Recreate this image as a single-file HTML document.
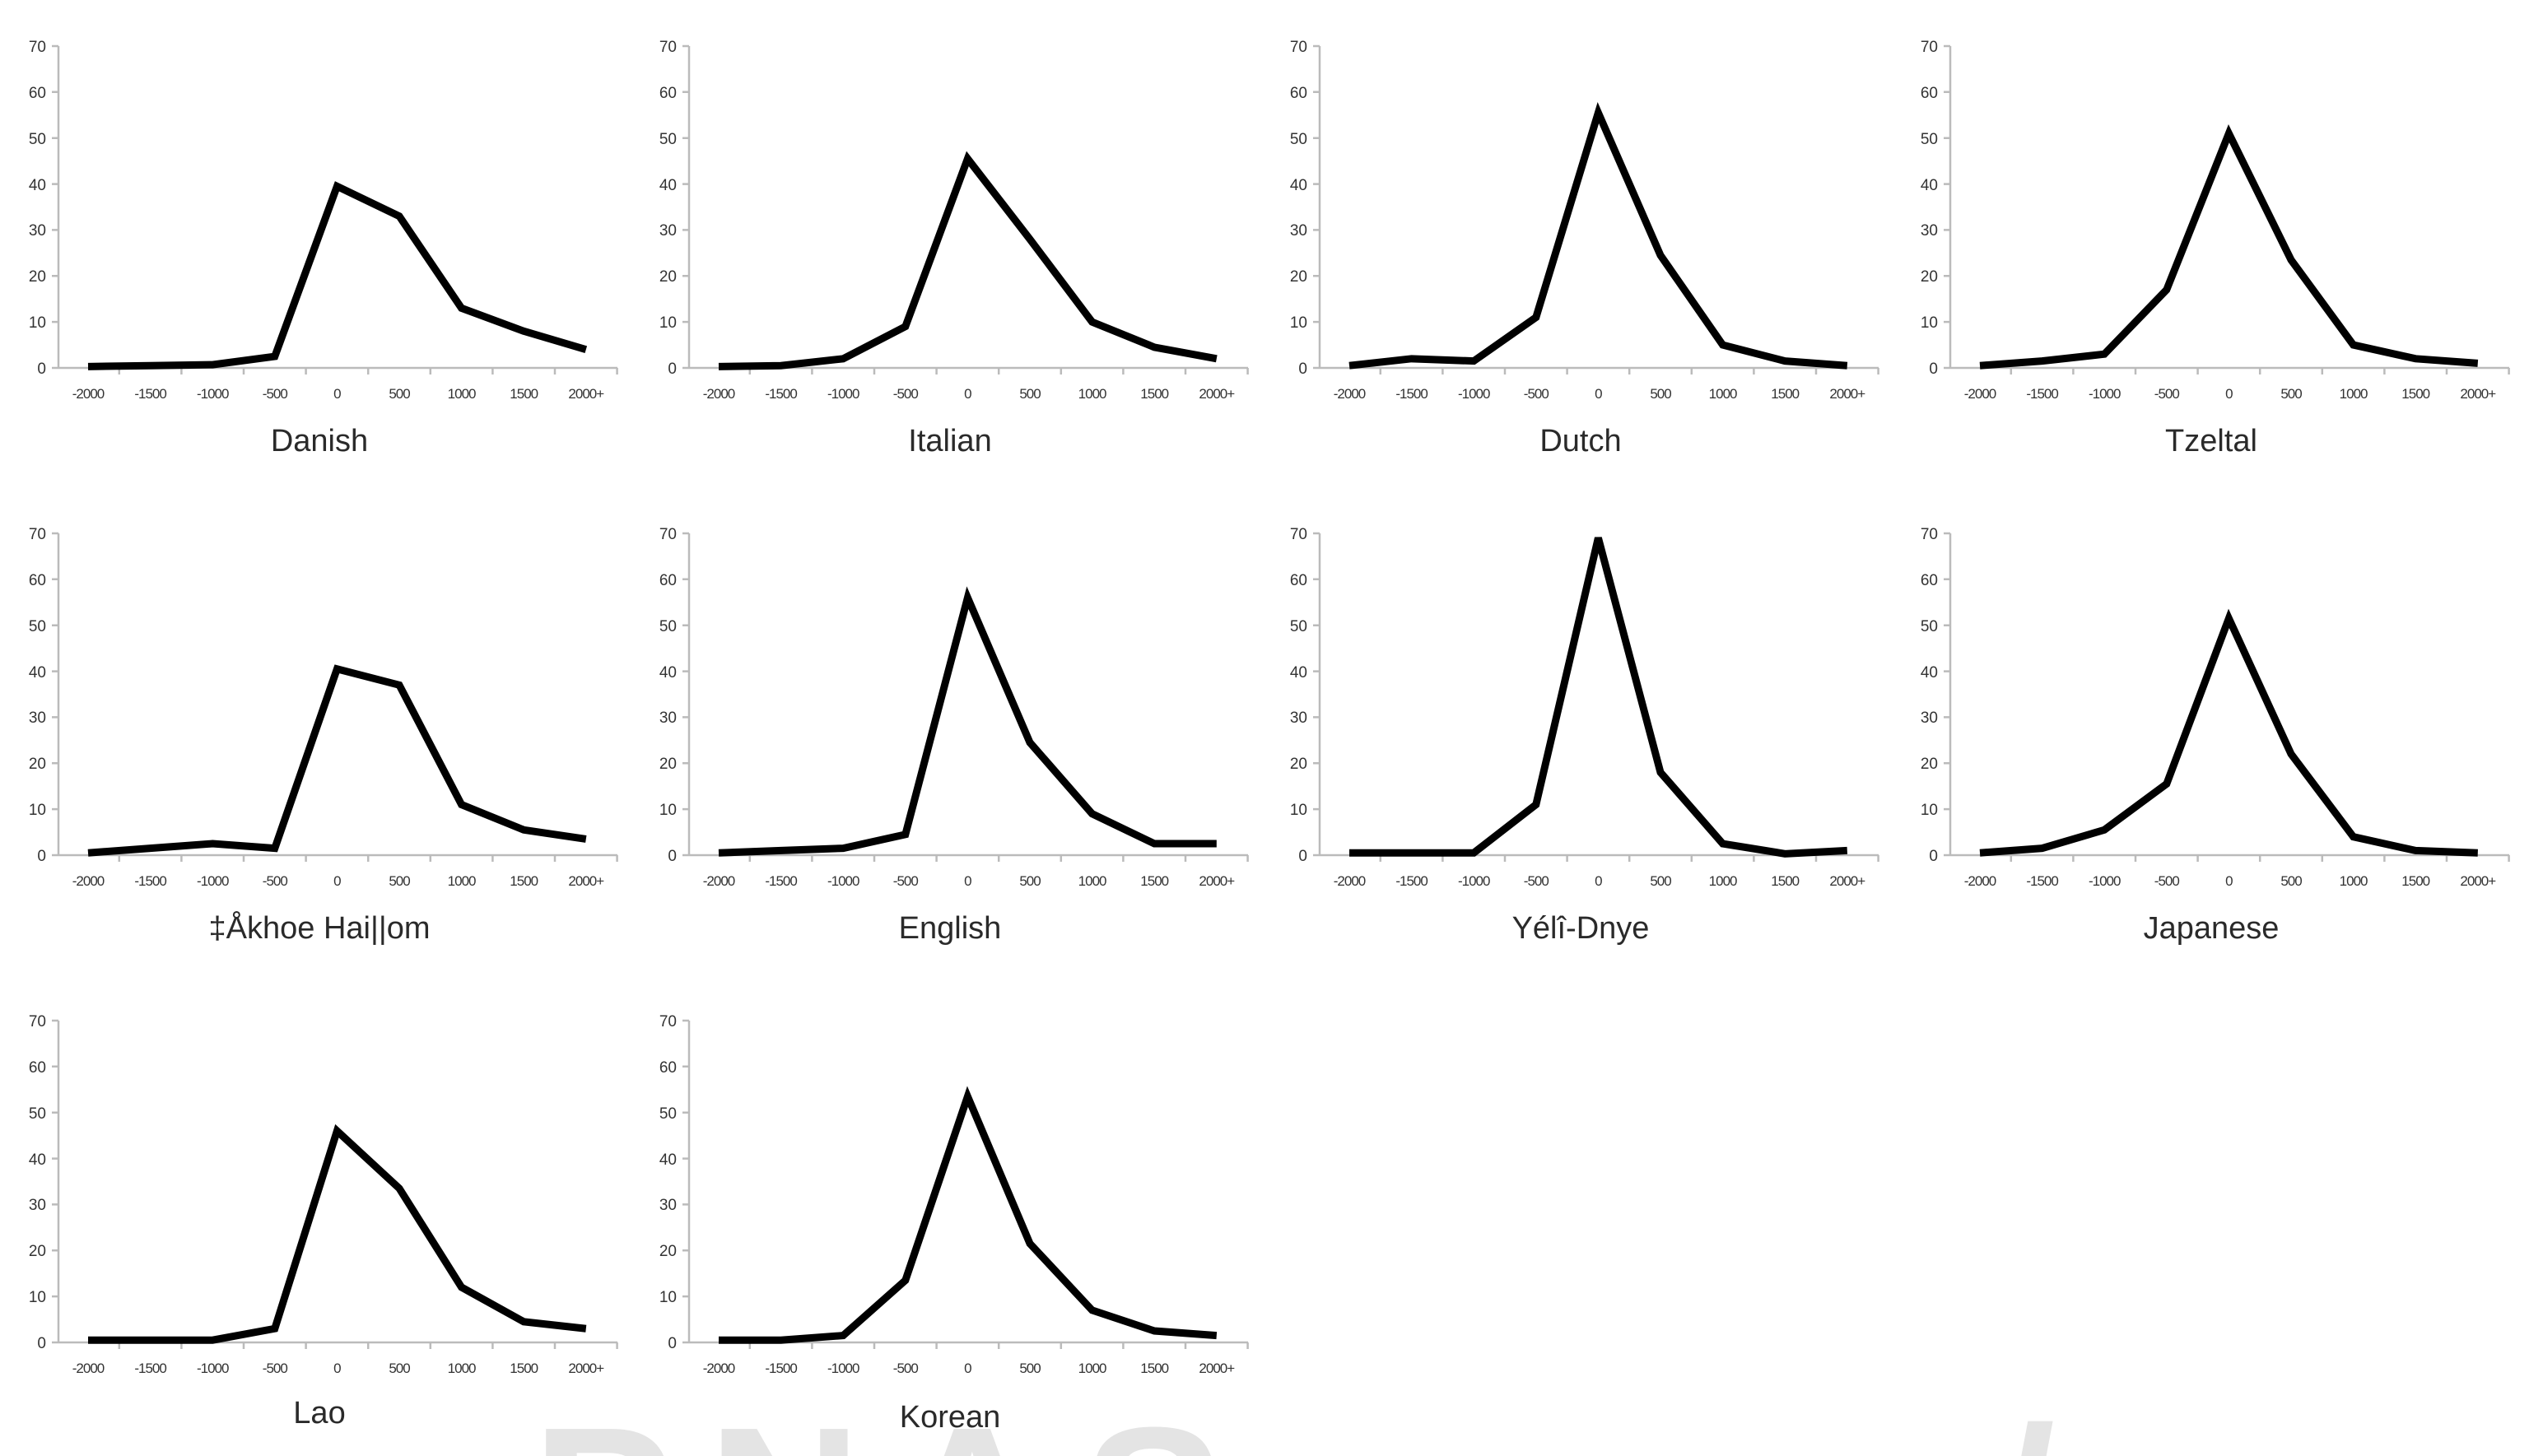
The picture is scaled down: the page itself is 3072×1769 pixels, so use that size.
<!DOCTYPE html>
<html><head><meta charset="utf-8"><style>
html,body{margin:0;padding:0;background:#fff;width:3072px;height:1769px;overflow:hidden;}
svg{display:block;overflow:hidden;}
.yl{font:19px "Liberation Sans",sans-serif;fill:#333;text-anchor:end;}
.xl{font:17px "Liberation Sans",sans-serif;fill:#333;text-anchor:middle;letter-spacing:-1px;}
.tt{font:38px "Liberation Sans","DejaVu Sans",sans-serif;fill:#2a2a2a;text-anchor:middle;}
.ax{stroke:#bbb;stroke-width:2.5;fill:none;}
.ln{stroke:#000;stroke-width:9;fill:none;stroke-linejoin:miter;vector-effect:non-scaling-stroke;}
</style></head><body>
<svg width="3072" height="1769" viewBox="0 0 3072 1769" xmlns="http://www.w3.org/2000/svg">
<rect width="3072" height="1769" fill="#fff"/>
<text x="1087" y="1915" font-family="Liberation Sans" font-weight="bold" font-size="260" fill="#e4e4e4" text-anchor="middle" letter-spacing="40">PNAS</text>
<text x="2460" y="1915" font-family="Liberation Sans" font-weight="bold" font-size="260" fill="#e4e4e4" text-anchor="middle">/</text>

<g transform="translate(0,0)">
<path class="ax" d="M71,56V447H750M63,56H71M63,111.8H71M63,167.7H71M63,223.6H71M63,279.4H71M63,335.3H71M63,391.1H71M63,447H71M144.8,447v8M220.4,447v8M296,447v8M371.6,447v8M447.2,447v8M522.8,447v8M598.4,447v8M674,447v8M749.6,447v8"/>
<text class="yl" x="56" y="63">70</text><text class="yl" x="56" y="119">60</text><text class="yl" x="56" y="175">50</text><text class="yl" x="56" y="231">40</text><text class="yl" x="56" y="286">30</text><text class="yl" x="56" y="342">20</text><text class="yl" x="56" y="398">10</text><text class="yl" x="56" y="454">0</text>
<text class="xl" x="107" y="484">-2000</text><text class="xl" x="182.6" y="484">-1500</text><text class="xl" x="258.2" y="484">-1000</text><text class="xl" x="333.8" y="484">-500</text><text class="xl" x="409.4" y="484">0</text><text class="xl" x="485" y="484">500</text><text class="xl" x="560.6" y="484">1000</text><text class="xl" x="636.2" y="484">1500</text><text class="xl" x="711.8" y="484">2000+</text>
<text class="tt" x="388" y="548">Danish</text>
<polyline class="ln" transform="translate(107,447) scale(75.6,-5.586)" points="0,0.3 1,0.5 2,0.7 3,2.5 4,39.5 5,33 6,13 7,8 8,4"/>
</g>

<g transform="translate(766,0)">
<path class="ax" d="M71,56V447H750M63,56H71M63,111.8H71M63,167.7H71M63,223.6H71M63,279.4H71M63,335.3H71M63,391.1H71M63,447H71M144.8,447v8M220.4,447v8M296,447v8M371.6,447v8M447.2,447v8M522.8,447v8M598.4,447v8M674,447v8M749.6,447v8"/>
<text class="yl" x="56" y="63">70</text><text class="yl" x="56" y="119">60</text><text class="yl" x="56" y="175">50</text><text class="yl" x="56" y="231">40</text><text class="yl" x="56" y="286">30</text><text class="yl" x="56" y="342">20</text><text class="yl" x="56" y="398">10</text><text class="yl" x="56" y="454">0</text>
<text class="xl" x="107" y="484">-2000</text><text class="xl" x="182.6" y="484">-1500</text><text class="xl" x="258.2" y="484">-1000</text><text class="xl" x="333.8" y="484">-500</text><text class="xl" x="409.4" y="484">0</text><text class="xl" x="485" y="484">500</text><text class="xl" x="560.6" y="484">1000</text><text class="xl" x="636.2" y="484">1500</text><text class="xl" x="711.8" y="484">2000+</text>
<text class="tt" x="388" y="548">Italian</text>
<polyline class="ln" transform="translate(107,447) scale(75.6,-5.586)" points="0,0.3 1,0.5 2,2 3,9 4,45.5 5,28 6,10 7,4.5 8,2"/>
</g>

<g transform="translate(1532,0)">
<path class="ax" d="M71,56V447H750M63,56H71M63,111.8H71M63,167.7H71M63,223.6H71M63,279.4H71M63,335.3H71M63,391.1H71M63,447H71M144.8,447v8M220.4,447v8M296,447v8M371.6,447v8M447.2,447v8M522.8,447v8M598.4,447v8M674,447v8M749.6,447v8"/>
<text class="yl" x="56" y="63">70</text><text class="yl" x="56" y="119">60</text><text class="yl" x="56" y="175">50</text><text class="yl" x="56" y="231">40</text><text class="yl" x="56" y="286">30</text><text class="yl" x="56" y="342">20</text><text class="yl" x="56" y="398">10</text><text class="yl" x="56" y="454">0</text>
<text class="xl" x="107" y="484">-2000</text><text class="xl" x="182.6" y="484">-1500</text><text class="xl" x="258.2" y="484">-1000</text><text class="xl" x="333.8" y="484">-500</text><text class="xl" x="409.4" y="484">0</text><text class="xl" x="485" y="484">500</text><text class="xl" x="560.6" y="484">1000</text><text class="xl" x="636.2" y="484">1500</text><text class="xl" x="711.8" y="484">2000+</text>
<text class="tt" x="388" y="548">Dutch</text>
<polyline class="ln" transform="translate(107,447) scale(75.6,-5.586)" points="0,0.5 1,2 2,1.5 3,11 4,55.5 5,24.5 6,5 7,1.5 8,0.5"/>
</g>

<g transform="translate(2298,0)">
<path class="ax" d="M71,56V447H750M63,56H71M63,111.8H71M63,167.7H71M63,223.6H71M63,279.4H71M63,335.3H71M63,391.1H71M63,447H71M144.8,447v8M220.4,447v8M296,447v8M371.6,447v8M447.2,447v8M522.8,447v8M598.4,447v8M674,447v8M749.6,447v8"/>
<text class="yl" x="56" y="63">70</text><text class="yl" x="56" y="119">60</text><text class="yl" x="56" y="175">50</text><text class="yl" x="56" y="231">40</text><text class="yl" x="56" y="286">30</text><text class="yl" x="56" y="342">20</text><text class="yl" x="56" y="398">10</text><text class="yl" x="56" y="454">0</text>
<text class="xl" x="107" y="484">-2000</text><text class="xl" x="182.6" y="484">-1500</text><text class="xl" x="258.2" y="484">-1000</text><text class="xl" x="333.8" y="484">-500</text><text class="xl" x="409.4" y="484">0</text><text class="xl" x="485" y="484">500</text><text class="xl" x="560.6" y="484">1000</text><text class="xl" x="636.2" y="484">1500</text><text class="xl" x="711.8" y="484">2000+</text>
<text class="tt" x="388" y="548">Tzeltal</text>
<polyline class="ln" transform="translate(107,447) scale(75.6,-5.586)" points="0,0.5 1,1.5 2,3 3,17 4,51 5,23.5 6,5 7,2 8,1"/>
</g>

<g transform="translate(0,592)">
<path class="ax" d="M71,56V447H750M63,56H71M63,111.8H71M63,167.7H71M63,223.6H71M63,279.4H71M63,335.3H71M63,391.1H71M63,447H71M144.8,447v8M220.4,447v8M296,447v8M371.6,447v8M447.2,447v8M522.8,447v8M598.4,447v8M674,447v8M749.6,447v8"/>
<text class="yl" x="56" y="63">70</text><text class="yl" x="56" y="119">60</text><text class="yl" x="56" y="175">50</text><text class="yl" x="56" y="231">40</text><text class="yl" x="56" y="286">30</text><text class="yl" x="56" y="342">20</text><text class="yl" x="56" y="398">10</text><text class="yl" x="56" y="454">0</text>
<text class="xl" x="107" y="484">-2000</text><text class="xl" x="182.6" y="484">-1500</text><text class="xl" x="258.2" y="484">-1000</text><text class="xl" x="333.8" y="484">-500</text><text class="xl" x="409.4" y="484">0</text><text class="xl" x="485" y="484">500</text><text class="xl" x="560.6" y="484">1000</text><text class="xl" x="636.2" y="484">1500</text><text class="xl" x="711.8" y="484">2000+</text>
<text class="tt" x="388" y="548">‡Åkhoe Hai||om</text>
<polyline class="ln" transform="translate(107,447) scale(75.6,-5.586)" points="0,0.5 1,1.5 2,2.5 3,1.5 4,40.5 5,37 6,11 7,5.5 8,3.5"/>
</g>

<g transform="translate(766,592)">
<path class="ax" d="M71,56V447H750M63,56H71M63,111.8H71M63,167.7H71M63,223.6H71M63,279.4H71M63,335.3H71M63,391.1H71M63,447H71M144.8,447v8M220.4,447v8M296,447v8M371.6,447v8M447.2,447v8M522.8,447v8M598.4,447v8M674,447v8M749.6,447v8"/>
<text class="yl" x="56" y="63">70</text><text class="yl" x="56" y="119">60</text><text class="yl" x="56" y="175">50</text><text class="yl" x="56" y="231">40</text><text class="yl" x="56" y="286">30</text><text class="yl" x="56" y="342">20</text><text class="yl" x="56" y="398">10</text><text class="yl" x="56" y="454">0</text>
<text class="xl" x="107" y="484">-2000</text><text class="xl" x="182.6" y="484">-1500</text><text class="xl" x="258.2" y="484">-1000</text><text class="xl" x="333.8" y="484">-500</text><text class="xl" x="409.4" y="484">0</text><text class="xl" x="485" y="484">500</text><text class="xl" x="560.6" y="484">1000</text><text class="xl" x="636.2" y="484">1500</text><text class="xl" x="711.8" y="484">2000+</text>
<text class="tt" x="388" y="548">English</text>
<polyline class="ln" transform="translate(107,447) scale(75.6,-5.586)" points="0,0.5 1,1 2,1.5 3,4.5 4,56 5,24.5 6,9 7,2.5 8,2.5"/>
</g>

<g transform="translate(1532,592)">
<path class="ax" d="M71,56V447H750M63,56H71M63,111.8H71M63,167.7H71M63,223.6H71M63,279.4H71M63,335.3H71M63,391.1H71M63,447H71M144.8,447v8M220.4,447v8M296,447v8M371.6,447v8M447.2,447v8M522.8,447v8M598.4,447v8M674,447v8M749.6,447v8"/>
<text class="yl" x="56" y="63">70</text><text class="yl" x="56" y="119">60</text><text class="yl" x="56" y="175">50</text><text class="yl" x="56" y="231">40</text><text class="yl" x="56" y="286">30</text><text class="yl" x="56" y="342">20</text><text class="yl" x="56" y="398">10</text><text class="yl" x="56" y="454">0</text>
<text class="xl" x="107" y="484">-2000</text><text class="xl" x="182.6" y="484">-1500</text><text class="xl" x="258.2" y="484">-1000</text><text class="xl" x="333.8" y="484">-500</text><text class="xl" x="409.4" y="484">0</text><text class="xl" x="485" y="484">500</text><text class="xl" x="560.6" y="484">1000</text><text class="xl" x="636.2" y="484">1500</text><text class="xl" x="711.8" y="484">2000+</text>
<text class="tt" x="388" y="548">Yélî-Dnye</text>
<polyline class="ln" transform="translate(107,447) scale(75.6,-5.586)" points="0,0.5 1,0.5 2,0.5 3,11 4,69 5,18 6,2.5 7,0.3 8,1"/>
</g>

<g transform="translate(2298,592)">
<path class="ax" d="M71,56V447H750M63,56H71M63,111.8H71M63,167.7H71M63,223.6H71M63,279.4H71M63,335.3H71M63,391.1H71M63,447H71M144.8,447v8M220.4,447v8M296,447v8M371.6,447v8M447.2,447v8M522.8,447v8M598.4,447v8M674,447v8M749.6,447v8"/>
<text class="yl" x="56" y="63">70</text><text class="yl" x="56" y="119">60</text><text class="yl" x="56" y="175">50</text><text class="yl" x="56" y="231">40</text><text class="yl" x="56" y="286">30</text><text class="yl" x="56" y="342">20</text><text class="yl" x="56" y="398">10</text><text class="yl" x="56" y="454">0</text>
<text class="xl" x="107" y="484">-2000</text><text class="xl" x="182.6" y="484">-1500</text><text class="xl" x="258.2" y="484">-1000</text><text class="xl" x="333.8" y="484">-500</text><text class="xl" x="409.4" y="484">0</text><text class="xl" x="485" y="484">500</text><text class="xl" x="560.6" y="484">1000</text><text class="xl" x="636.2" y="484">1500</text><text class="xl" x="711.8" y="484">2000+</text>
<text class="tt" x="388" y="548">Japanese</text>
<polyline class="ln" transform="translate(107,447) scale(75.6,-5.586)" points="0,0.5 1,1.5 2,5.5 3,15.5 4,51.5 5,22 6,4 7,1 8,0.5"/>
</g>

<g transform="translate(0,1184)">
<path class="ax" d="M71,56V447H750M63,56H71M63,111.8H71M63,167.7H71M63,223.6H71M63,279.4H71M63,335.3H71M63,391.1H71M63,447H71M144.8,447v8M220.4,447v8M296,447v8M371.6,447v8M447.2,447v8M522.8,447v8M598.4,447v8M674,447v8M749.6,447v8"/>
<text class="yl" x="56" y="63">70</text><text class="yl" x="56" y="119">60</text><text class="yl" x="56" y="175">50</text><text class="yl" x="56" y="231">40</text><text class="yl" x="56" y="286">30</text><text class="yl" x="56" y="342">20</text><text class="yl" x="56" y="398">10</text><text class="yl" x="56" y="454">0</text>
<text class="xl" x="107" y="484">-2000</text><text class="xl" x="182.6" y="484">-1500</text><text class="xl" x="258.2" y="484">-1000</text><text class="xl" x="333.8" y="484">-500</text><text class="xl" x="409.4" y="484">0</text><text class="xl" x="485" y="484">500</text><text class="xl" x="560.6" y="484">1000</text><text class="xl" x="636.2" y="484">1500</text><text class="xl" x="711.8" y="484">2000+</text>
<text class="tt" x="388" y="545">Lao</text>
<polyline class="ln" transform="translate(107,447) scale(75.6,-5.586)" points="0,0.5 1,0.5 2,0.5 3,3 4,46 5,33.5 6,12 7,4.5 8,3"/>
</g>

<g transform="translate(766,1184)">
<path class="ax" d="M71,56V447H750M63,56H71M63,111.8H71M63,167.7H71M63,223.6H71M63,279.4H71M63,335.3H71M63,391.1H71M63,447H71M144.8,447v8M220.4,447v8M296,447v8M371.6,447v8M447.2,447v8M522.8,447v8M598.4,447v8M674,447v8M749.6,447v8"/>
<text class="yl" x="56" y="63">70</text><text class="yl" x="56" y="119">60</text><text class="yl" x="56" y="175">50</text><text class="yl" x="56" y="231">40</text><text class="yl" x="56" y="286">30</text><text class="yl" x="56" y="342">20</text><text class="yl" x="56" y="398">10</text><text class="yl" x="56" y="454">0</text>
<text class="xl" x="107" y="484">-2000</text><text class="xl" x="182.6" y="484">-1500</text><text class="xl" x="258.2" y="484">-1000</text><text class="xl" x="333.8" y="484">-500</text><text class="xl" x="409.4" y="484">0</text><text class="xl" x="485" y="484">500</text><text class="xl" x="560.6" y="484">1000</text><text class="xl" x="636.2" y="484">1500</text><text class="xl" x="711.8" y="484">2000+</text>
<text class="tt" x="388" y="550">Korean</text>
<polyline class="ln" transform="translate(107,447) scale(75.6,-5.586)" points="0,0.5 1,0.5 2,1.5 3,13.5 4,53.5 5,21.5 6,7 7,2.5 8,1.5"/>
</g>
</svg>
</body></html>
